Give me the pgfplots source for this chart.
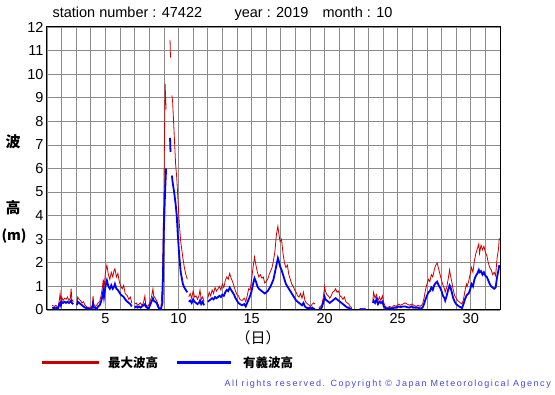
\documentclass[border=0pt]{standalone}
\usepackage{pgfplots}
\pgfplotsset{compat=1.18}
\usepackage{pgfplotstable}
\usepackage{fontspec}
\setmainfont{Liberation Sans}
\newfontfamily\cjk{Noto Sans CJK JP}
\definecolor{maxred}{RGB}{204,0,0}
\definecolor{sigblue}{RGB}{0,0,255}
\definecolor{copyblue}{RGB}{70,70,220}
\definecolor{gridgray}{RGB}{140,140,140}
\pgfplotstableread{
day max sig
1.35 0.20 0.10
1.5 0.15 0.08
1.6 0.20 0.10
1.75 0.10 0.05
1.85 0.45 0.25
1.9 0.70 0.30
1.95 0.35 0.20
2.0 0.55 0.35
2.1 0.40 0.30
2.2 0.50 0.35
2.3 0.45 0.30
2.4 0.55 0.35
2.5 0.40 0.30
2.6 0.50 0.35
2.65 0.90 0.40
2.7 0.45 0.30
2.8 0.35 0.25
2.9 nan nan
3.05 0.30 0.20
3.1 0.55 0.35
3.2 0.45 0.30
3.3 0.40 0.25
3.4 0.30 0.20
3.5 0.35 0.15
3.6 0.20 0.10
3.7 0.15 0.08
3.8 0.10 0.05
3.9 0.12 0.05
4.0 0.10 0.05
4.1 0.20 0.10
4.15 0.60 0.25
4.2 0.25 0.10
4.3 0.15 0.10
4.4 0.20 0.05
4.5 0.30 0.15
4.6 0.35 0.20
4.7 0.60 0.35
4.8 1.00 0.60
4.85 1.30 0.80
4.9 0.90 0.55
5.0 1.60 1.00
5.1 1.90 1.25
5.2 1.50 1.00
5.3 1.30 0.90
5.4 1.60 1.05
5.5 1.40 0.90
5.6 1.70 1.00
5.65 1.75 1.10
5.75 1.40 0.90
5.85 1.55 0.85
5.95 1.20 0.75
6.05 1.00 0.65
6.15 0.90 0.60
6.25 1.05 0.55
6.35 0.70 0.45
6.5 0.60 0.35
6.6 0.45 0.30
6.7 0.55 0.25
6.8 0.30 0.15
6.9 nan nan
7.0 0.25 0.10
7.1 0.30 0.15
7.2 0.20 0.10
7.3 0.25 0.15
7.4 0.30 0.10
7.5 0.20 0.15
7.6 0.30 0.20
7.7 0.60 0.25
7.75 0.25 0.15
7.85 0.15 0.10
7.95 0.20 0.05
8.05 0.35 0.20
8.15 0.55 0.35
8.25 0.90 0.50
8.3 0.60 0.40
8.4 0.50 0.35
8.5 0.40 0.30
8.6 0.25 0.15
8.7 0.05 0.03
8.8 0.10 0.05
8.9 1.20 0.30
9.0 5.0 3.5
9.08 9.6 5.0
9.15 8.5 6.0
9.2 nan nan
9.42 11.45 7.3
9.45 10.7 6.7
9.5 nan nan
9.55 9.1 5.7
9.6 8.8 5.4
9.7 7.5 5.0
9.8 6.2 4.5
9.88 5.6 4.0
9.95 4.8 3.2
10.05 3.7 2.3
10.15 2.9 1.6
10.3 2.2 1.1
10.4 1.8 0.95
10.5 1.5 0.85
10.6 1.3 0.75
10.65 nan nan
10.7 0.55 0.35
10.8 0.70 0.40
10.9 0.50 0.30
11.0 0.80 0.45
11.1 0.55 0.35
11.2 0.60 0.30
11.3 0.45 0.25
11.4 0.60 0.30
11.47 0.85 0.40
11.55 0.45 0.25
11.65 0.55 0.35
11.75 0.35 0.20
11.85 nan nan
12.0 0.50 0.35
12.1 0.75 0.40
12.2 0.60 0.45
12.3 0.85 0.50
12.4 0.70 0.45
12.5 0.95 0.55
12.6 0.80 0.50
12.7 0.90 0.55
12.8 1.00 0.60
12.9 0.85 0.55
13.0 1.10 0.65
13.1 0.95 0.60
13.2 1.25 0.75
13.3 1.40 0.85
13.4 1.30 0.80
13.5 1.55 0.95
13.6 1.35 0.85
13.7 1.20 0.75
13.8 1.00 0.65
13.9 0.80 0.50
14.0 0.65 0.40
14.1 0.60 0.30
14.2 0.45 0.25
14.35 0.40 0.20
14.5 0.50 0.25
14.6 0.35 0.15
14.7 0.60 0.30
14.8 0.90 0.45
14.9 0.85 0.60
15.0 1.30 0.80
15.1 1.80 1.10
15.2 2.25 1.35
15.3 1.90 1.20
15.4 1.60 1.00
15.5 1.40 0.90
15.6 1.50 0.85
15.7 1.35 0.80
15.8 1.40 0.75
15.9 1.15 0.70
16.0 1.20 0.75
16.1 1.30 0.80
16.2 1.50 0.90
16.3 1.65 1.00
16.4 1.80 1.15
16.5 2.10 1.30
16.6 2.50 1.60
16.7 3.20 1.90
16.8 3.55 2.20
16.85 3.30 2.10
16.95 2.90 1.85
17.05 3.00 1.70
17.15 2.40 1.50
17.25 2.00 1.30
17.35 1.80 1.10
17.45 1.90 1.00
17.55 1.50 0.90
17.65 1.30 0.80
17.75 1.10 0.70
17.85 1.00 0.60
17.95 0.85 0.50
18.05 0.75 0.40
18.15 0.60 0.35
18.25 0.55 0.30
18.35 0.70 0.25
18.45 0.50 0.20
18.55 0.75 0.30
18.65 0.40 0.15
18.75 0.30 0.10
18.85 0.25 0.08
18.95 0.20 0.10
19.05 0.15 0.05
19.15 0.25 0.10
19.25 0.30 0.05
19.35 0.25 0.05
19.45 nan nan
19.6 0.10 0.05
19.7 0.15 0.05
19.8 0.20 0.10
19.9 0.50 0.30
20.0 1.00 0.55
20.05 0.80 0.45
20.15 0.65 0.40
20.25 0.60 0.35
20.35 0.50 0.30
20.45 0.60 0.35
20.55 0.75 0.40
20.65 0.80 0.45
20.75 0.90 0.50
20.85 0.75 0.45
20.95 0.80 0.40
21.05 0.60 0.35
21.15 0.55 0.30
21.25 0.45 0.25
21.35 0.55 0.20
21.45 0.35 0.15
21.55 0.30 0.10
21.65 0.25 0.10
21.75 0.15 0.05
21.85 0.10 0.03
21.95 nan nan
22.4 0.05 0.03
22.6 0.05 0.03
22.8 0.05 0.03
22.95 nan nan
23.3 0.40 0.30
23.35 0.75 0.40
23.45 0.50 0.30
23.55 0.65 0.45
23.65 0.40 0.25
23.75 0.55 0.35
23.85 0.40 0.30
23.95 0.60 0.35
24.05 0.30 0.15
24.15 0.15 0.08
24.3 0.10 0.05
24.45 0.15 0.08
24.6 0.10 0.05
24.75 0.20 0.10
24.9 0.15 0.10
25.05 0.25 0.15
25.2 0.20 0.12
25.35 0.25 0.15
25.5 0.30 0.15
25.65 0.25 0.12
25.8 0.20 0.10
25.95 0.25 0.15
26.1 0.20 0.10
26.25 0.15 0.10
26.4 0.20 0.10
26.55 0.15 0.05
26.7 0.25 0.10
26.8 0.50 0.25
26.9 0.85 0.45
27.0 1.10 0.60
27.1 1.30 0.75
27.2 1.20 0.80
27.3 1.50 0.95
27.4 1.40 0.85
27.5 1.70 1.05
27.6 1.90 1.15
27.7 2.00 1.20
27.8 1.75 1.05
27.9 1.50 0.95
28.0 1.25 0.80
28.1 1.05 0.60
28.2 0.90 0.50
28.25 0.75 0.40
28.35 0.95 0.60
28.45 1.30 0.85
28.55 1.70 1.05
28.6 1.50 1.00
28.7 1.20 0.75
28.8 0.85 0.50
28.9 0.60 0.35
29.0 0.50 0.25
29.1 0.40 0.20
29.2 0.35 0.15
29.3 0.30 0.12
29.4 0.25 0.08
29.5 0.45 0.25
29.6 0.80 0.45
29.7 1.10 0.60
29.75 1.00 0.65
29.85 1.20 0.70
29.95 1.50 0.85
30.05 1.80 1.10
30.15 1.60 1.00
30.25 2.10 1.30
30.35 2.40 1.45
30.45 2.60 1.55
30.55 2.80 1.70
30.6 2.40 1.60
30.7 2.75 1.65
30.8 2.55 1.50
30.9 2.70 1.60
31.0 2.45 1.45
31.1 2.30 1.40
31.2 2.00 1.25
31.3 1.80 1.10
31.4 1.70 1.00
31.5 1.50 0.95
31.6 1.60 0.90
31.7 1.45 0.95
31.8 2.20 1.40
31.9 2.60 1.70
31.95 3.05 1.90
}\wavedata
\begin{document}
\begin{tikzpicture}[x=1pt,y=1pt]
\path[use as bounding box] (0,0) rectangle (555,395);
\begin{axis}[
  at={(47pt,85pt)}, anchor=south west,
  width=453pt, height=283pt, scale only axis,
  xmin=1, xmax=32, ymin=0, ymax=12,
  xtick={5,10,15,20,25,30},
  minor xtick={1,...,32},
  ytick={0,1,...,12},
  grid=both,
  major grid style={gridgray, line width=0.7pt},
  minor grid style={gridgray, line width=0.7pt},
  tick style={draw=none},
  axis line style={black, line width=1pt},
  tick label style={font=\fontsize{14.5}{16}\selectfont},
  /pgf/number format/assume math mode=true,
  unbounded coords=jump,
  clip=true,
]
\addplot[maxred, line width=0.8pt] table[x=day, y=max] {\wavedata};
\addplot[sigblue, line width=1.8pt] table[x=day, y=sig] {\wavedata};
\end{axis}
% title
\node[anchor=base west, font=\fontsize{14.5}{16}\selectfont] at (49,377) {station number : 47422};
\node[anchor=base west, font=\fontsize{14.5}{16}\selectfont] at (231,377) {year : 2019};
\node[anchor=base west, font=\fontsize{14.5}{16}\selectfont] at (319,377) {month : 10};
% y label
\node[font=\cjk\bfseries\fontsize{15}{16}\selectfont] at (13,253) {波};
\node[font=\cjk\bfseries\fontsize{15}{16}\selectfont] at (13,187) {高};
\node[inner sep=0pt, font=\cjk\bfseries\fontsize{14}{16}\selectfont] at (14,159) {(m)};
% x label
\node[font=\cjk\fontsize{15}{16}\selectfont] at (258,57) {（日）};
% legend
\draw[maxred, line width=3pt] (42,32) -- (99,32);
\node[anchor=west, inner sep=0pt, font=\cjk\bfseries\fontsize{12.5}{14}\selectfont] at (108,32) {最大波高};
\draw[sigblue, line width=3pt] (177,32) -- (231,32);
\node[anchor=west, inner sep=0pt, font=\cjk\bfseries\fontsize{12.5}{14}\selectfont] at (243,32) {有義波高};
% copyright
\node[anchor=east, inner sep=0pt, text=copyblue, font=\fontsize{9}{10}\selectfont\addfontfeatures{LetterSpace=17}] at (551,11) {All rights reserved. Copyright © Japan Meteorological Agency};
\end{tikzpicture}
\end{document}
